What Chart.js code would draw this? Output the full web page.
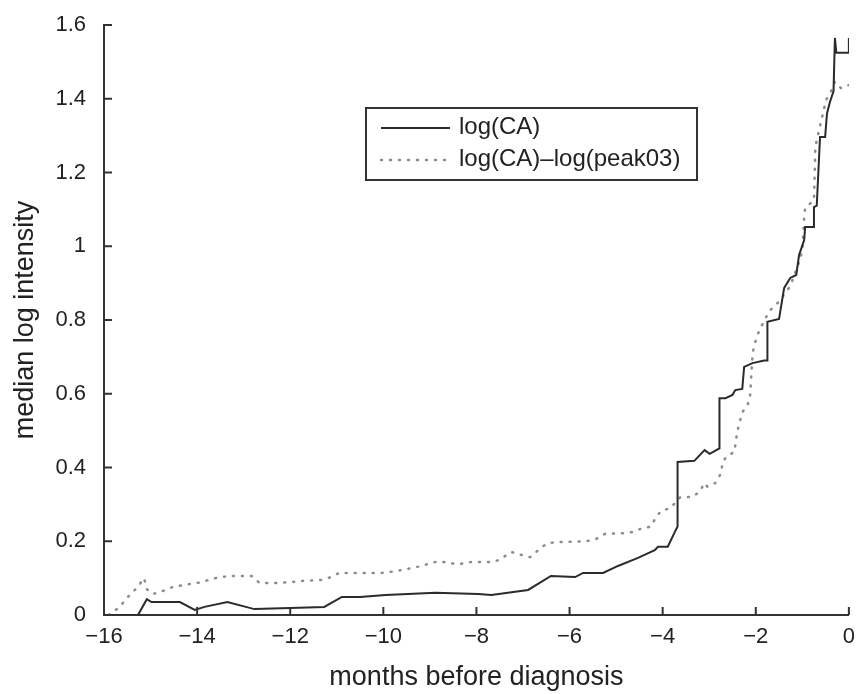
<!DOCTYPE html>
<html>
<head>
<meta charset="utf-8">
<script src="https://cdn.jsdelivr.net/npm/chart.js@4.4.1/dist/chart.umd.min.js"></script>
<style>
  html, body { margin: 0; padding: 0; background: #ffffff; }
  #wrap { position: relative; width: 864px; height: 694px; }
</style>
</head>
<body>
<div id="wrap"><canvas id="c" width="864" height="694"></canvas></div>
<script>
// ---- data ----
const seriesLabels = ["log(CA)", "log(CA)\u2013log(peak03)"];

const caMonths = [-16, -15.27, -15.08, -14.98, -14.37, -14.05, -13.84, -13.35, -12.77, -12.0, -11.27, -10.89, -10.5, -9.95, -8.88, -7.96, -7.68, -6.89, -6.40, -5.88, -5.71, -5.28, -4.96, -4.53, -4.17, -4.1, -3.89, -3.72, -3.68, -3.68, -3.32, -3.10, -2.99, -2.78, -2.78, -2.65, -2.50, -2.44, -2.29, -2.25, -2.07, -1.82, -1.75, -1.75, -1.50, -1.39, -1.26, -1.13, -1.07, -0.96, -0.94, -0.75, -0.75, -0.69, -0.62, -0.51, -0.47, -0.41, -0.33, -0.30, -0.27, 0, 0];
const caValues = [0, 0, 0.043, 0.035, 0.035, 0.014, 0.022, 0.035, 0.016, 0.019, 0.022, 0.049, 0.049, 0.054, 0.060, 0.057, 0.054, 0.068, 0.106, 0.103, 0.114, 0.114, 0.133, 0.155, 0.176, 0.185, 0.185, 0.230, 0.240, 0.415, 0.418, 0.447, 0.437, 0.452, 0.588, 0.588, 0.597, 0.610, 0.613, 0.673, 0.683, 0.690, 0.690, 0.795, 0.803, 0.887, 0.914, 0.922, 0.976, 1.017, 1.052, 1.052, 1.106, 1.110, 1.296, 1.296, 1.360, 1.390, 1.420, 1.565, 1.525, 1.525, 1.565];

const peakMonths = [-15.9, -15.66, -15.51, -15.38, -15.23, -15.14, -15.08, -14.95, -14.74, -14.52, -14.16, -13.9, -13.69, -13.48, -13.26, -12.83, -12.66, -12.28, -11.98, -11.81, -11.34, -11.12, -10.95, -10.52, -10.05, -9.84, -9.6, -9.18, -8.98, -8.81, -8.6, -8.38, -8.11, -7.96, -7.61, -7.42, -7.25, -7.04, -6.85, -6.67, -6.5, -6.29, -6.07, -5.65, -5.43, -5.24, -4.81, -4.64, -4.43, -4.26, -4.15, -4.04, -3.83, -3.72, -3.62, -3.36, -3.21, -3.1, -3.04, -2.87, -2.74, -2.72, -2.63, -2.46, -2.4, -2.29, -2.18, -2.12, -2.07, -2.03, -1.97, -1.9, -1.71, -1.5, -1.26, -1.13, -1.05, -1.0, -0.96, -0.94, -0.75, -0.73, -0.72, -0.49, -0.39, -0.3, -0.17, 0];
const peakValues = [0, 0.022, 0.046, 0.062, 0.084, 0.100, 0.070, 0.057, 0.065, 0.076, 0.084, 0.089, 0.098, 0.103, 0.106, 0.106, 0.087, 0.087, 0.089, 0.092, 0.095, 0.103, 0.114, 0.114, 0.114, 0.117, 0.122, 0.133, 0.141, 0.146, 0.141, 0.138, 0.144, 0.144, 0.144, 0.157, 0.171, 0.163, 0.157, 0.176, 0.193, 0.198, 0.198, 0.200, 0.206, 0.220, 0.222, 0.225, 0.236, 0.239, 0.263, 0.282, 0.290, 0.306, 0.320, 0.320, 0.334, 0.358, 0.348, 0.358, 0.385, 0.412, 0.430, 0.442, 0.496, 0.550, 0.567, 0.597, 0.708, 0.732, 0.757, 0.778, 0.824, 0.850, 0.892, 0.936, 0.963, 0.990, 1.077, 1.104, 1.125, 1.215, 1.270, 1.397, 1.418, 1.446, 1.429, 1.437];

const xTickValues = [-16, -14, -12, -10, -8, -6, -4, -2, 0];
const yTickValues = [0, 0.2, 0.4, 0.6, 0.8, 1, 1.2, 1.4, 1.6];
const xTitle = "months before diagnosis";
const yTitle = "median log intensity";

// ---- chart ----
const FONT = "'Liberation Sans', Arial, Helvetica, sans-serif";
const INK = "#222222";

function toPoints(xs, ys) { return xs.map((x, i) => ({ x: x, y: ys[i] })); }

const inwardTicks = {
  id: "inwardTicks",
  afterDraw(chart) {
    const ctx = chart.ctx, a = chart.chartArea;
    const xs = chart.scales.x, ys = chart.scales.y;
    ctx.save();
    ctx.strokeStyle = "#333333";
    ctx.lineWidth = 2;
    ctx.beginPath();
    xTickValues.forEach(v => {
      const px = xs.getPixelForValue(v);
      ctx.moveTo(px, a.bottom); ctx.lineTo(px, a.bottom - 8);
    });
    yTickValues.forEach(v => {
      const py = ys.getPixelForValue(v);
      ctx.moveTo(a.left, py); ctx.lineTo(a.left + 8, py);
    });
    ctx.stroke();
    ctx.restore();
  }
};

const boxLegend = {
  id: "boxLegend",
  afterDraw(chart) {
    const ctx = chart.ctx;
    const left = 366, top = 108, right = 697, bottom = 180;
    ctx.save();
    ctx.fillStyle = "#ffffff";
    ctx.fillRect(left, top, right - left, bottom - top);
    ctx.strokeStyle = "#333333";
    ctx.lineWidth = 2;
    ctx.strokeRect(left, top, right - left, bottom - top);
    const rows = [127, 159];
    chart.data.datasets.forEach((ds, i) => {
      ctx.beginPath();
      ctx.strokeStyle = ds.borderColor;
      ctx.lineWidth = ds.borderWidth;
      ctx.lineCap = ds.borderCapStyle || "butt";
      ctx.setLineDash(ds.borderDash || []);
      ctx.moveTo(381, rows[i] + 1); ctx.lineTo(450, rows[i] + 1);
      ctx.stroke();
      ctx.setLineDash([]);
      ctx.fillStyle = INK;
      ctx.font = "24px " + FONT;
      ctx.textBaseline = "middle";
      ctx.textAlign = "left";
      ctx.fillText(ds.label, 459, rows[i]);
    });
    ctx.restore();
  }
};

new Chart(document.getElementById("c"), {
  type: "line",
  data: {
    datasets: [
      {
        label: seriesLabels[0],
        data: toPoints(caMonths, caValues),
        borderColor: "#2b2b2b",
        borderWidth: 2,
        pointRadius: 0,
        tension: 0,
        fill: false
      },
      {
        label: seriesLabels[1],
        data: toPoints(peakMonths, peakValues),
        borderColor: "#8c8c8c",
        borderWidth: 2.5,
        borderDash: [1, 8],
        borderCapStyle: "round",
        pointRadius: 0,
        tension: 0,
        fill: false
      }
    ]
  },
  options: {
    responsive: false,
    animation: false,
    events: [],
    layout: { padding: { top: 25, right: 12, left: 0, bottom: 0 } },
    plugins: { legend: { display: false }, tooltip: { enabled: false } },
    scales: {
      x: {
        type: "linear",
        min: -16, max: 0,
        afterBuildTicks(s) { s.ticks = xTickValues.map(v => ({ value: v })); },
        afterFit(s) { s.height = 79; },
        grid: { display: false, drawTicks: false },
        border: { display: true, color: "#333333", width: 2 },
        ticks: {
          color: INK, padding: 9,
          font: { family: FONT, size: 22 },
          maxRotation: 0, autoSkip: false,
          callback: v => String(v).replace("-", "\u2212")
        },
        title: {
          display: true, text: xTitle, color: INK,
          font: { family: FONT, size: 27 },
          padding: { top: 2, bottom: 0 }
        }
      },
      y: {
        type: "linear",
        min: 0, max: 1.6,
        afterBuildTicks(s) { s.ticks = yTickValues.map(v => ({ value: v })); },
        afterFit(s) { s.width = 104; s.paddingTop = 0; s.paddingBottom = 0; },
        grid: { display: false, drawTicks: false },
        border: { display: true, color: "#333333", width: 2 },
        ticks: {
          color: INK, padding: 18,
          font: { family: FONT, size: 22 },
          callback: v => String(Math.round(v * 10) / 10)
        },
        title: {
          display: true, text: yTitle, color: INK,
          font: { family: FONT, size: 27 },
          padding: { top: 9, bottom: 0 }
        }
      }
    }
  },
  plugins: [inwardTicks, boxLegend]
});
</script>
</body>
</html>
